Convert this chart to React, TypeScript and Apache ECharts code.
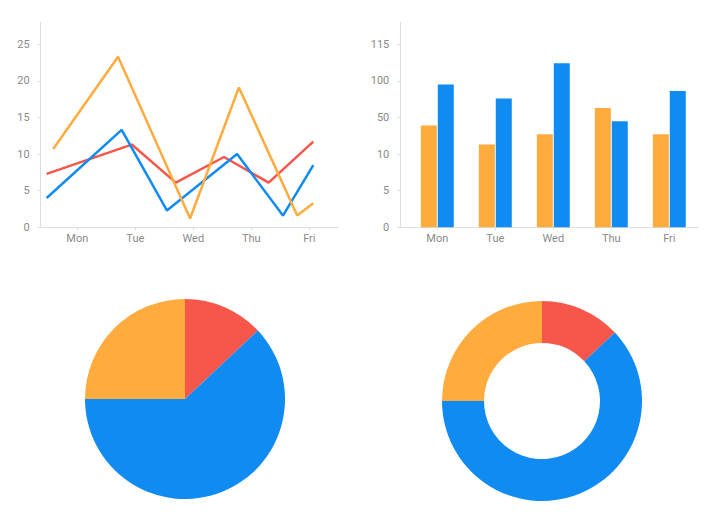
import React, { useEffect, useRef } from "react";
import * as echarts from "echarts";

const days = ["Mon", "Tue", "Wed", "Thu", "Fri"];

// line chart: x positions on a 0..5 scale (one unit per day band), y values
const redX = [0.1, 1.53, 2.27, 3.08, 3.83, 4.58];
const redY = [7.3, 11.3, 6.1, 9.6, 6.1, 11.7];
const blueX = [0.1, 1.36, 2.12, 3.3, 4.07, 4.58];
const blueY = [4.0, 13.3, 2.3, 10.0, 1.6, 8.5];
const orangeX = [0.21, 1.3, 2.51, 3.33, 4.31, 4.58];
const orangeY = [10.7, 23.3, 1.2, 19.1, 1.6, 3.3];

// bar chart
const barOrange = [13.9, 11.3, 12.7, 16.3, 12.7];
const barBlue = [19.5, 17.6, 22.4, 14.5, 18.6];
const barTickLabels = ["0", "5", "10", "50", "100", "115"];

// pies
const pieNames = ["A", "B", "C"];
const pieValues = [13, 62, 25];

const RED = "#f7564a";
const BLUE = "#108bf2";
const ORANGE = "#ffab3d";
const TEXT = "#8a8a8a";
const LINE = "#dedede";

const pairs = (xs: number[], ys: number[]) => xs.map((x, i) => [x, ys[i]]);

export default function App() {
  const ref = useRef<HTMLDivElement | null>(null);

  useEffect(() => {
    if (!ref.current) return;
    const chart = echarts.init(ref.current, null, { renderer: "svg" });

    const axisLine = { show: true, lineStyle: { color: LINE, width: 1 } };
    const axisTick = { show: true, length: 3, lineStyle: { color: LINE } };
    const labelStyle = { color: TEXT, fontSize: 11, fontFamily: "Roboto" };

    // the frame axes: line only
    const frameX = (gridIndex: number) => ({
      type: "value",
      gridIndex,
      min: 0,
      max: 5,
      axisLine,
      axisTick: { show: false },
      axisLabel: { show: false },
      splitLine: { show: false },
    });
    // day labels, sitting a little right of the frame's left edge
    const dayAxis = (gridIndex: number) => ({
      type: "category",
      gridIndex,
      data: days,
      axisLine: { show: false },
      axisTick: { ...axisTick, alignWithLabel: true },
      axisLabel: { ...labelStyle, margin: 6 },
      splitLine: { show: false },
    });
    const hiddenY = (gridIndex: number) => ({
      type: "value",
      gridIndex,
      min: 0,
      max: 28,
      show: false,
    });

    chart.setOption({
      animation: false,
      grid: [
        { left: 40.7, right: 371.7, top: 22.3, bottom: 299.7 },
        { left: 48.3, right: 371.7, top: 22.3, bottom: 299.7 },
        { left: 400.3, right: 11.7, top: 22.3, bottom: 299.7 },
        { left: 408.3, right: 11.7, top: 22.3, bottom: 299.7 },
      ],
      xAxis: [frameX(0), dayAxis(1), frameX(2), dayAxis(3)],
      yAxis: [
        {
          type: "value",
          gridIndex: 0,
          min: 0,
          max: 28,
          interval: 5,
          axisLine,
          axisTick,
          splitLine: { show: false },
          axisLabel: { ...labelStyle, margin: 11, showMaxLabel: false },
        },
        hiddenY(1),
        {
          type: "value",
          gridIndex: 2,
          min: 0,
          max: 28,
          interval: 5,
          axisLine,
          axisTick,
          splitLine: { show: false },
          axisLabel: {
            ...labelStyle,
            margin: 11,
            showMaxLabel: false,
            formatter: (v: number) => barTickLabels[Math.round(v / 5)] ?? "",
          },
        },
        hiddenY(3),
      ],
      series: [
        {
          type: "line",
          xAxisIndex: 0,
          yAxisIndex: 0,
          data: pairs(redX, redY),
          showSymbol: false,
          lineStyle: { color: RED, width: 2.5 },
          itemStyle: { color: RED },
        },
        {
          type: "line",
          xAxisIndex: 0,
          yAxisIndex: 0,
          data: pairs(blueX, blueY),
          showSymbol: false,
          lineStyle: { color: BLUE, width: 2.5 },
          itemStyle: { color: BLUE },
        },
        {
          type: "line",
          xAxisIndex: 0,
          yAxisIndex: 0,
          data: pairs(orangeX, orangeY),
          showSymbol: false,
          lineStyle: { color: ORANGE, width: 2.5 },
          itemStyle: { color: ORANGE },
        },
        {
          type: "bar",
          xAxisIndex: 3,
          yAxisIndex: 3,
          data: barOrange,
          barWidth: 16,
          barGap: "6%",
          itemStyle: { color: ORANGE },
        },
        {
          type: "bar",
          xAxisIndex: 3,
          yAxisIndex: 3,
          data: barBlue,
          barWidth: 16,
          barGap: "6%",
          itemStyle: { color: BLUE },
        },
        {
          type: "pie",
          center: [185, 399],
          radius: [0, 100],
          startAngle: 90,
          clockwise: true,
          label: { show: false },
          labelLine: { show: false },
          color: [RED, BLUE, ORANGE],
          data: pieNames.map((name, i) => ({ name, value: pieValues[i] })),
        },
        {
          type: "pie",
          center: [542, 401],
          radius: [58, 100],
          startAngle: 90,
          clockwise: true,
          label: { show: false },
          labelLine: { show: false },
          color: [RED, BLUE, ORANGE],
          data: pieNames.map((name, i) => ({ name, value: pieValues[i] })),
        },
      ],
    });

    return () => chart.dispose();
  }, []);

  return (
    <div
      ref={ref}
      style={{ position: "fixed", left: 0, top: 0, width: 710, height: 527, background: "#fff" }}
    />
  );
}
